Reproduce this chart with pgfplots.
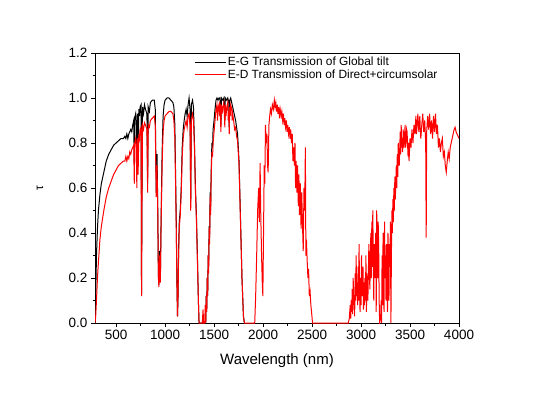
\documentclass[border=0pt]{standalone}
\usepackage{fontspec}
\setmainfont{Liberation Sans}
\usepackage{pgfplots}
\pgfplotsset{compat=1.18}
\begin{document}
\begin{tikzpicture}[x=1bp,y=1bp]
\useasboundingbox (0,0) rectangle (533,400);
\begin{axis}[
  at={(95bp,77bp)}, anchor=south west,
  scale only axis, width=364bp, height=270bp,
  xmin=285, xmax=4000, ymin=0, ymax=1.2,
  xtick={500,1000,...,4000}, ytick={0,0.2,...,1.2},
  minor xtick={750,1250,...,3750}, minor ytick={0.1,0.3,...,1.1},
  tick align=outside, xtick pos=bottom, ytick pos=left,
  major tick length=4bp, minor tick length=2.5bp,
  tick style={black, line width=0.6bp},
  axis line style={line width=0.8bp},
  /pgf/number format/assume math mode=true,
  x tick label style={/pgf/number format/1000 sep={}, font=\fontsize{13.5bp}{15bp}\selectfont},
  y tick label style={/pgf/number format/fixed, /pgf/number format/fixed zerofill, /pgf/number format/precision=1, font=\fontsize{13.5bp}{15bp}\selectfont},
  scaled ticks=false,
  xlabel={Wavelength (nm)},
  xlabel style={at={(axis description cs:0.5,0)}, anchor=center, yshift=-38bp, font=\fontsize{15bp}{17bp}\selectfont},
  ylabel={τ},
  ylabel style={at={(axis description cs:-0.151,0.5)}, anchor=center, font=\fontsize{12bp}{14bp}\selectfont},
  legend style={draw=none, fill=none, at={(axis description cs:0.269,0.997)}, anchor=north west, font=\fontsize{11.9bp}{13bp}\selectfont, row sep=-1.5bp, inner sep=1bp},
  legend cell align=left,
  legend image code/.code={\draw[#1, line width=0.8bp] (0bp,0bp) -- (31bp,0bp);},
]
\addplot[black, line width=1bp] coordinates {
(285,0) (292,0.12) (300,0.3) (310,0.42) (320,0.5) (335,0.57) (350,0.62) (375,0.67) (400,0.72) (425,0.75) (450,0.77) (475,0.79) (500,0.8) (525,0.81) (550,0.82) (575,0.82) (590,0.83) (600,0.82) (610,0.84) (620,0.82) (630,0.84) (640,0.85) (650,0.86) (660,0.85) (670,0.88) (680,0.9) (686,0.7) (690,0.91) (700,0.93) (706,0.88) (712,0.66) (718,0.93) (725,0.72) (732,0.95) (740,0.92) (745,0.96) (755,0.97) (760,0.13) (764,0.55) (770,0.96) (780,0.93) (790,0.97) (800,0.95) (815,0.93) (822,0.62) (828,0.96) (840,0.94) (850,0.98) (870,0.99) (890,0.99) (900,0.95) (910,0.58) (918,0.75) (925,0.53) (932,0.21) (937,0.17) (945,0.32) (952,0.19) (960,0.48) (970,0.76) (980,0.92) (990,0.97) (1000,0.99) (1020,1.0) (1040,1.0) (1060,0.99) (1080,0.98) (1090,0.96) (1100,0.88) (1108,0.64) (1115,0.43) (1120,0.21) (1127,0.03) (1133,0.13) (1138,0.32) (1145,0.45) (1155,0.5) (1165,0.6) (1175,0.78) (1185,0.86) (1195,0.9) (1205,0.93) (1215,0.95) (1225,0.92) (1235,0.97) (1245,1.0) (1255,0.95) (1262,0.54) (1268,0.97) (1280,0.99) (1290,0.96) (1300,0.8) (1310,0.6) (1320,0.48) (1330,0.3) (1340,0.1) (1347,0.0)
(1415,0.0) (1420,0.12) (1425,0.05) (1430,0.2) (1435,0.12) (1440,0.3) (1445,0.25) (1450,0.43) (1455,0.38) (1460,0.58) (1465,0.5) (1470,0.66) (1478,0.8) (1485,0.78) (1490,0.86) (1500,0.9) (1510,0.95) (1520,0.99) (1530,1.0) (1540,0.99) (1550,1.0) (1560,1.0) (1570,0.88) (1575,1.0) (1590,0.99) (1600,1.0) (1610,0.9) (1615,1.0) (1630,0.99) (1640,1.0) (1650,0.98) (1655,0.87) (1660,0.99) (1670,1.0) (1680,0.98) (1690,0.96) (1700,0.94) (1720,0.9) (1740,0.84) (1755,0.72) (1770,0.46) (1785,0.2) (1800,0.03) (1810,0.0)
};
\addlegendentry{E-G Transmission of Global tilt}
\addplot[red, line width=1bp] coordinates {
(285,0) (292,0.03) (300,0.1) (310,0.2) (320,0.27) (335,0.37) (350,0.43) (375,0.5) (400,0.56) (425,0.6) (450,0.63) (475,0.66) (500,0.68) (525,0.7) (550,0.71) (575,0.72) (590,0.72) (600,0.74) (610,0.72) (620,0.74) (630,0.73) (640,0.76) (650,0.75) (660,0.77) (670,0.78) (680,0.79) (686,0.62) (690,0.8) (700,0.82) (706,0.78) (712,0.6) (718,0.82) (725,0.66) (732,0.84) (740,0.82) (745,0.86) (755,0.87) (760,0.12) (764,0.5) (770,0.88) (780,0.86) (790,0.89) (800,0.88) (815,0.86) (822,0.58) (828,0.88) (840,0.87) (850,0.9) (870,0.91) (890,0.92) (900,0.88) (910,0.56) (918,0.7) (925,0.5) (932,0.2) (937,0.16) (945,0.3) (952,0.18) (960,0.45) (970,0.7) (980,0.85) (990,0.9) (1000,0.92) (1020,0.93) (1040,0.94) (1060,0.94) (1080,0.93) (1090,0.9) (1100,0.82) (1108,0.6) (1115,0.4) (1120,0.2) (1127,0.03) (1133,0.12) (1138,0.3) (1145,0.42) (1155,0.48) (1165,0.58) (1175,0.74) (1185,0.82) (1195,0.86) (1205,0.88) (1215,0.9) (1225,0.87) (1235,0.92) (1245,0.93) (1255,0.88) (1262,0.5) (1268,0.9) (1280,0.93) (1290,0.9) (1300,0.78) (1310,0.58) (1320,0.46) (1330,0.28) (1340,0.1) (1347,0.0) (1380,0.0) (1388,0.06) (1393,0.0) (1405,0.0) (1410,0.08) (1415,0.0) (1420,0.12) (1425,0.05) (1430,0.2) (1435,0.12) (1440,0.3) (1445,0.22) (1450,0.42) (1455,0.35) (1460,0.56) (1465,0.48) (1470,0.64) (1478,0.76) (1485,0.74) (1490,0.8) (1500,0.85) (1510,0.9) (1520,0.95) (1530,0.97) (1535,0.9) (1540,0.95) (1550,0.97) (1555,0.92) (1560,0.98) (1570,0.85) (1575,0.97) (1582,0.93) (1590,0.96) (1600,0.98) (1605,0.93) (1610,0.87) (1615,0.97) (1622,0.92) (1630,0.96) (1640,0.98) (1645,0.9) (1650,0.94) (1655,0.84) (1660,0.96) (1665,0.92) (1670,0.97) (1680,0.95) (1685,0.9) (1690,0.93) (1700,0.9) (1710,0.86) (1720,0.87) (1730,0.83) (1740,0.81) (1755,0.7) (1770,0.45) (1785,0.2) (1800,0.03) (1810,0.0)
(1915,0.0) (1924,0.11) (1935,0.3) (1945,0.5) (1955,0.6) (1962,0.45) (1970,0.71) (1976,0.5) (1985,0.3) (1992,0.18) (1998,0.12) (2005,0.4) (2012,0.7) (2018,0.62) (2025,0.88) (2032,0.8) (2040,0.84) (2046,0.7) (2052,0.67) (2060,0.88) (2068,0.92) (2076,0.95) (2085,0.93) (2095,0.97) (2105,0.95) (2115,0.99) (2122,0.96) (2130,0.98) (2138,0.94) (2145,0.97) (2152,0.93) (2160,0.96) (2168,0.91) (2175,0.95) (2185,0.92) (2192,0.94) (2200,0.9) (2208,0.93) (2215,0.88) (2222,0.91) (2230,0.87) (2238,0.9) (2245,0.85) (2252,0.88) (2260,0.84) (2268,0.87) (2275,0.82) (2282,0.86) (2290,0.8) (2298,0.84) (2305,0.72) (2312,0.78) (2320,0.7) (2326,0.8) (2332,0.6) (2338,0.72) (2345,0.58) (2352,0.7) (2360,0.52) (2366,0.66) (2372,0.48) (2380,0.62) (2388,0.42) (2395,0.58) (2402,0.45) (2410,0.32) (2418,0.6) (2425,0.5) (2432,0.78) (2437,0.3) (2443,0.37) (2450,0.28) (2458,0.2) (2465,0.24) (2472,0.12) (2480,0.14) (2488,0.08) (2495,0.05) (2505,0.0) (2870,0.0) (2880,0.02) (2890,0.08) (2895,0.02) (2900,0.1) (2905,0.05) (2910,0.15) (2915,0.04) (2920,0.2) (2925,0.08) (2930,0.12) (2935,0.03) (2940,0.22) (2945,0.1) (2950,0.3) (2955,0.12) (2960,0.18) (2965,0.08) (2970,0.25) (2975,0.1) (2980,0.35) (2985,0.15) (2990,0.05) (2995,0.2) (3000,0.08) (3005,0.3) (3010,0.12) (3020,0.25) (3025,0.06) (3030,0.18) (3035,0.08) (3040,0.2) (3045,0.1) (3050,0.3) (3055,0.05) (3060,0.22) (3070,0.1) (3080,0.35) (3090,0.15) (3100,0.4) (3105,0.2) (3110,0.45) (3115,0.25) (3120,0.5) (3125,0.3) (3130,0.1) (3135,0.35) (3140,0.2) (3150,0.4) (3155,0.05) (3160,0.5) (3165,0.3) (3170,0.2) (3175,0.45) (3180,0.35) (3185,0.1) (3190,0.0) (3200,0.02) (3205,0.1) (3210,0.0) (3215,0.3) (3220,0.08) (3225,0.4) (3230,0.15) (3235,0.05) (3240,0.45) (3245,0.2) (3250,0.3) (3255,0.1) (3260,0.35) (3265,0.25) (3270,0.05) (3275,0.4) (3280,0.3) (3285,0.1) (3290,0.35) (3295,0.25) (3300,0.45) (3305,0.0) (3310,0.3) (3315,0.5) (3320,0.4) (3325,0.55) (3330,0.45) (3335,0.6) (3340,0.5) (3345,0.65) (3350,0.55) (3360,0.7) (3365,0.6) (3370,0.75) (3375,0.65) (3380,0.8) (3390,0.7) (3400,0.85) (3405,0.75) (3410,0.88) (3415,0.78) (3420,0.82) (3425,0.76) (3430,0.86) (3440,0.78) (3445,0.84) (3450,0.88) (3455,0.78) (3460,0.8) (3465,0.86) (3470,0.85) (3480,0.74) (3485,0.8) (3490,0.72) (3500,0.82) (3510,0.78) (3520,0.86) (3530,0.8) (3540,0.88) (3550,0.84) (3560,0.92) (3565,0.84) (3570,0.86) (3580,0.93) (3590,0.85) (3600,0.92) (3605,0.86) (3610,0.82) (3620,0.88) (3630,0.93) (3640,0.85) (3650,0.9) (3660,0.8) (3665,0.38) (3670,0.85) (3680,0.92) (3690,0.86) (3700,0.93) (3710,0.84) (3720,0.9) (3730,0.82) (3740,0.92) (3750,0.85) (3760,0.93) (3770,0.84) (3780,0.88) (3790,0.78) (3800,0.82) (3810,0.76) (3820,0.8) (3830,0.82) (3840,0.74) (3850,0.76) (3860,0.7) (3870,0.67) (3880,0.72) (3890,0.76) (3900,0.73) (3910,0.78) (3920,0.8) (3930,0.82) (3940,0.84) (3950,0.86) (3960,0.87) (3970,0.85) (3980,0.84) (3990,0.83) (4000,0.82)
};
\addlegendentry{E-D Transmission of Direct+circumsolar}
\end{axis}
\end{tikzpicture}
\end{document}
